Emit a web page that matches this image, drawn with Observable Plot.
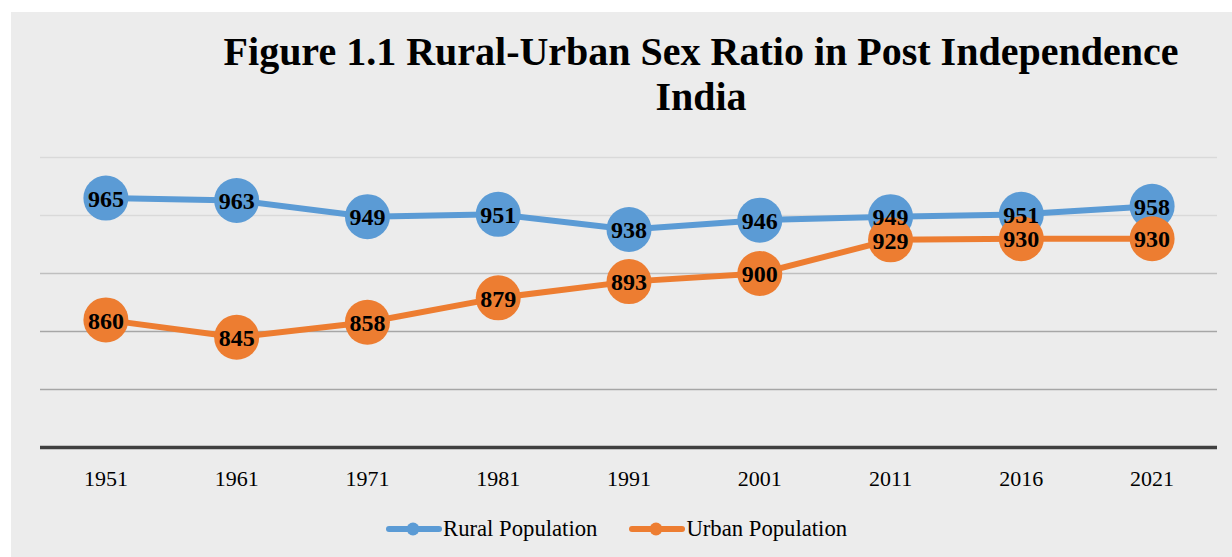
<!DOCTYPE html>
<html>
<head>
<meta charset="utf-8">
<script src="https://cdn.jsdelivr.net/npm/d3@7"></script>
<script src="https://cdn.jsdelivr.net/npm/@observablehq/plot@0.6"></script>
<style>
  html, body { margin: 0; padding: 0; background: #ffffff; }
  body { width: 1232px; height: 557px; position: relative; overflow: hidden; font-family: "Liberation Serif", "Times New Roman", serif; }
  #panel { position: absolute; left: 11px; top: 12px; width: 1221px; height: 545px; background: #ececec; }
  #title { position: absolute; left: 151px; width: 1100px; top: 29px; text-align: center; font-weight: bold; font-size: 40px; line-height: 45px; color: #000; }
  #chart { position: absolute; left: 0; top: 140px; }
  #legend { position: absolute; top: 515px; left: 386px; height: 28px; display: flex; align-items: center; font-size: 22.7px; color: #000; }
  .item { display: flex; align-items: center; }
  .item + .item { margin-left: 32px; }
  .item svg { margin-right: 1px; }
</style>
</head>
<body>
<div id="panel"></div>
<div id="title">Figure 1.1 Rural-Urban Sex Ratio in Post Independence<br>India</div>
<div id="chart"></div>
<div id="legend"></div>
<script>
const years = ["1951", "1961", "1971", "1981", "1991", "2001", "2011", "2016", "2021"];
const rural = [965, 963, 949, 951, 938, 946, 949, 951, 958];
const urban = [860, 845, 858, 879, 893, 900, 929, 930, 930];
const seriesNames = ["Rural Population", "Urban Population"];
const seriesColors = ["#5b9bd5", "#ed7d31"];
const gridValues = [800, 850, 900, 950, 1000];
const yMin = 750, yMax = 1000;

const ruralData = years.map((year, i) => ({year, value: rural[i], series: seriesNames[0]}));
const urbanData = years.map((year, i) => ({year, value: urban[i], series: seriesNames[1]}));
const allData = ruralData.concat(urbanData);

const gridColor = v => v >= 950 ? "#d9d9d9" : v >= 900 ? "#bfbfbf" : "#a6a6a6";

const chart = Plot.plot({
  width: 1232,
  height: 360,
  marginLeft: 40,
  marginRight: 15,
  marginTop: 17,
  marginBottom: 53,
  style: {background: "transparent", fontFamily: "'Liberation Serif', 'Times New Roman', serif", color: "#000"},
  x: {type: "point", domain: years, padding: 0.5, round: false, label: null},
  y: {domain: [yMin, yMax], axis: null},
  color: {domain: seriesNames, range: seriesColors},
  marks: [
    Plot.ruleY(gridValues, {stroke: gridColor, strokeWidth: 1.3, strokeOpacity: 1}),
    Plot.ruleY([yMin], {stroke: "#404040", strokeWidth: 3.5}),
    Plot.axisX({tickSize: 0, tickPadding: 23, fontSize: 22, fill: "#000"}),
    Plot.line(ruralData, {x: "year", y: "value", stroke: "series", strokeWidth: 6}),
    Plot.dot(ruralData, {x: "year", y: "value", fill: "series", r: 22.5, stroke: "none"}),
    Plot.line(urbanData, {x: "year", y: "value", stroke: "series", strokeWidth: 6}),
    Plot.dot(urbanData, {x: "year", y: "value", fill: "series", r: 22.5, stroke: "none"}),
    Plot.text(allData, {x: "year", y: "value", text: d => String(d.value), fontSize: 24, fontWeight: "bold", fill: "#000", textAnchor: "middle", lineAnchor: "middle", dy: 1})
  ]
});
document.getElementById("chart").appendChild(chart);

const legend = document.getElementById("legend");
seriesNames.forEach((name, i) => {
  const item = document.createElement("div");
  item.className = "item";
  item.innerHTML = `<svg width="56" height="14"><line x1="3" y1="7" x2="53" y2="7" stroke="${seriesColors[i]}" stroke-width="6" stroke-linecap="round"/><circle cx="27" cy="7" r="6.5" fill="${seriesColors[i]}"/></svg><span>${name}</span>`;
  legend.appendChild(item);
});
</script>
</body>
</html>
